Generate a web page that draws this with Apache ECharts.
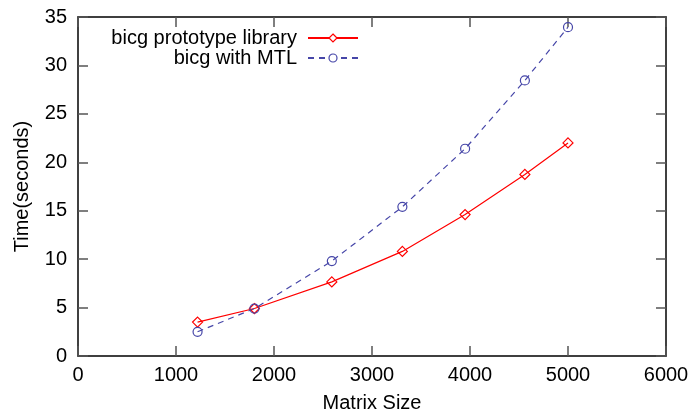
<!DOCTYPE html>
<html>
<head>
<meta charset="utf-8">
<script src="https://cdn.jsdelivr.net/npm/echarts@6/dist/echarts.min.js"></script>
<style>
  html, body { margin: 0; padding: 0; background: #fff; }
  #chart { width: 692px; height: 411px; }
</style>
</head>
<body>
<div id="chart"></div>
<script>
// Matrix sizes used in the benchmark runs
const matrixSizes = [1220, 1800, 2590, 3310, 3950, 4560, 5000];
// Run times in seconds
const prototypeTimes = [3.5, 4.9, 7.65, 10.8, 14.6, 18.75, 22.0];
const mtlTimes = [2.5, 4.9, 9.8, 15.4, 21.4, 28.45, 33.95];
const seriesNames = ['bicg prototype library', 'bicg with MTL'];

const FONT = '"Liberation Sans", Arial, sans-serif';
const FS = 20;
const RED = '#ff0000';
const BLUE = '#4646a8';

const pairs = (xs, ys) => xs.map((x, i) => [x, ys[i]]);

const frameTick = { show: true, inside: true, length: 10, lineStyle: { color: '#555', width: 1.5 } };
const frameLine = { show: true, onZero: false, lineStyle: { color: '#000', width: 1.5 } };
const labelStyle = { fontFamily: FONT, fontSize: FS, color: '#000' };

function legendRow(name, color, top) {
  return {
    data: [{ name: name, itemStyle: { color: '#fff', borderColor: color, borderWidth: 1.2 } }],
    orient: 'vertical', align: 'right', right: 333, top: top, padding: 0,
    itemWidth: 50, itemHeight: 10,
    textStyle: { fontFamily: FONT, fontSize: FS, color: '#000', lineHeight: 20, padding: [0, 6, 0, 0] }
  };
}

const chart = echarts.init(document.getElementById('chart'), null, { renderer: 'canvas' });
chart.setOption({
  animation: false,
  backgroundColor: '#fff',
  grid: { left: 78, right: 26, top: 17, bottom: 55, containLabel: false, outerBoundsMode: 'none' },
  xAxis: [
    {
      type: 'value', min: 0, max: 6000, interval: 1000,
      name: 'Matrix Size', nameLocation: 'middle', nameGap: 37,
      nameTextStyle: labelStyle,
      axisLine: frameLine, axisTick: frameTick,
      axisLabel: Object.assign({ margin: 9, formatter: v => String(v) }, labelStyle),
      splitLine: { show: false }
    },
    {
      type: 'value', position: 'top', min: 0, max: 6000, interval: 1000,
      axisLine: frameLine, axisTick: frameTick,
      axisLabel: { show: false }, splitLine: { show: false }
    }
  ],
  yAxis: [
    {
      type: 'value', min: 0, max: 35, interval: 5,
      name: 'Time(seconds)', nameLocation: 'middle', nameGap: 46,
      nameTextStyle: labelStyle,
      axisLine: frameLine, axisTick: frameTick,
      axisLabel: Object.assign({ margin: 11 }, labelStyle),
      splitLine: { show: false }
    },
    {
      type: 'value', position: 'right', min: 0, max: 35, interval: 5,
      axisLine: frameLine, axisTick: frameTick,
      axisLabel: { show: false }, splitLine: { show: false }
    }
  ],
  legend: [
    legendRow(seriesNames[0], RED, 28),
    legendRow(seriesNames[1], BLUE, 48)
  ],
  series: [
    {
      name: seriesNames[0], type: 'line', data: pairs(matrixSizes, prototypeTimes),
      symbol: 'diamond', symbolSize: 10, showAllSymbol: true,
      lineStyle: { color: RED, width: 1.2 },
      itemStyle: { color: 'rgba(255,255,255,0)', borderColor: RED, borderWidth: 1.2 },
      emphasis: { disabled: true }
    },
    {
      name: seriesNames[1], type: 'line', data: pairs(matrixSizes, mtlTimes),
      symbol: 'circle', symbolSize: 9, showAllSymbol: true,
      lineStyle: { color: BLUE, width: 1.2, type: [6, 5] },
      itemStyle: { color: 'rgba(255,255,255,0)', borderColor: BLUE, borderWidth: 1.2 },
      emphasis: { disabled: true }
    }
  ]
});
</script>
</body>
</html>
